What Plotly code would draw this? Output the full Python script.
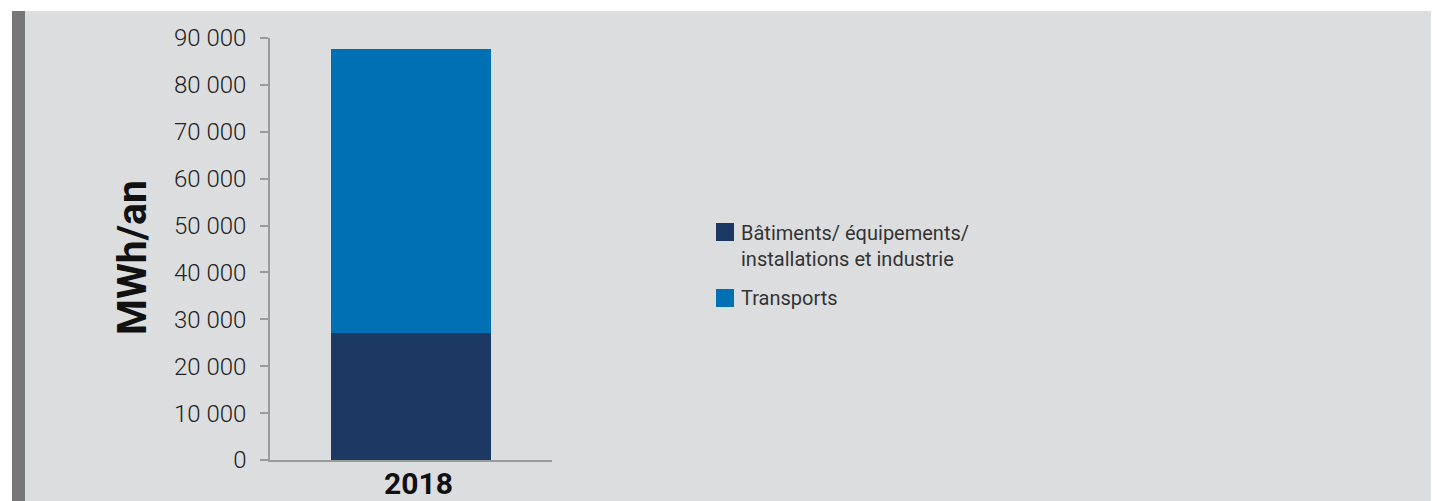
import plotly.graph_objects as go

categories = ["2018"]
series_names = ["Bâtiments/ équipements/<br>installations et industrie", "Transports"]
batiments = [27100]
transports = [60500]
series_values = [batiments, transports]
colors = ["#1c3964", "#0070b5"]
y_ticks = [0, 10000, 20000, 30000, 40000, 50000, 60000, 70000, 80000, 90000]

W, H = 1439, 501
OFF = 8  # page body margin offset
L, R, T, B = 270 - OFF, 552 - OFF, 38 - OFF, 460 - OFF

def px(x):
    return (x - OFF - L) / (R - L)

def py(y):
    return (B - (y - OFF)) / (B - T)

fig = go.Figure()
for name, vals, col in zip(series_names, series_values, colors):
    fig.add_trace(go.Bar(x=categories, y=vals, name=name, marker=dict(color=col, line=dict(width=0)),
                         width=0.57, showlegend=False))

shapes = [
    dict(type="rect", xref="paper", yref="paper", x0=px(-20), x1=px(W + 20), y0=py(-20), y1=py(11),
         fillcolor="white", line=dict(width=0), layer="above"),
    dict(type="rect", xref="paper", yref="paper", x0=px(-20), x1=px(12), y0=py(-20), y1=py(H + 20),
         fillcolor="white", line=dict(width=0), layer="above"),
    dict(type="rect", xref="paper", yref="paper", x0=px(1434), x1=px(W + 20), y0=py(-20), y1=py(H + 20),
         fillcolor="white", line=dict(width=0), layer="above"),
    dict(type="rect", xref="paper", yref="paper", x0=px(12), x1=px(25), y0=py(11), y1=py(H + 20),
         fillcolor="#77777a", line=dict(width=0), layer="above"),
]

annotations = [
    dict(text="<b>MWh/an</b>", textangle=-90, xref="paper", yref="paper", x=px(132), y=py(258),
         xanchor="center", yanchor="middle", showarrow=False,
         font=dict(family="Roboto", size=41, color="#111111")),
]
for cat in categories:
    annotations.append(dict(text="<b>" + cat + "</b>", xref="paper", yref="paper", x=px(418), y=py(484),
                            xanchor="center", yanchor="middle", showarrow=False,
                            font=dict(family="Roboto", size=30, color="#111111")))
leg_y = [246, 298]
sq_y = [(223, 241), (289, 307)]
for name, col, ly, (s0, s1) in zip(series_names, colors, leg_y, sq_y):
    shapes.append(dict(type="rect", xref="paper", yref="paper", x0=px(716), x1=px(734), y0=py(s1), y1=py(s0),
                       fillcolor=col, line=dict(width=0)))
    annotations.append(dict(text=name, xref="paper", yref="paper", x=px(739), y=py(ly), xanchor="left",
                            yanchor="middle", align="left", showarrow=False,
                            font=dict(family="Roboto", size=20, color="#333333")))

fig.update_layout(
    width=W, height=H,
    margin=dict(l=L, r=W - R, t=T, b=H - B, pad=0, autoexpand=False),
    paper_bgcolor="#dcdddf", plot_bgcolor="rgba(0,0,0,0)",
    barmode="stack", bargap=0,
    separators=", ",
    shapes=shapes, annotations=annotations,
    showlegend=False,
    xaxis=dict(type="category", range=[-0.5, 0.5], showline=True, linecolor="#9a9a9a", linewidth=2,
               ticks="", showgrid=False, showticklabels=False, automargin=False),
    yaxis=dict(range=[0, 90000], tickvals=y_ticks, tickformat=",", showline=True, linecolor="#9a9a9a",
               linewidth=1.5, ticks="outside", ticklen=8, tickcolor="#9a9a9a", tickwidth=1.5,
               showgrid=False, zeroline=False, ticklabelstandoff=9, automargin=False,
               tickfont=dict(family="Roboto", size=24, color="#222222", weight=300)),
)

fig.write_html("out.html")
